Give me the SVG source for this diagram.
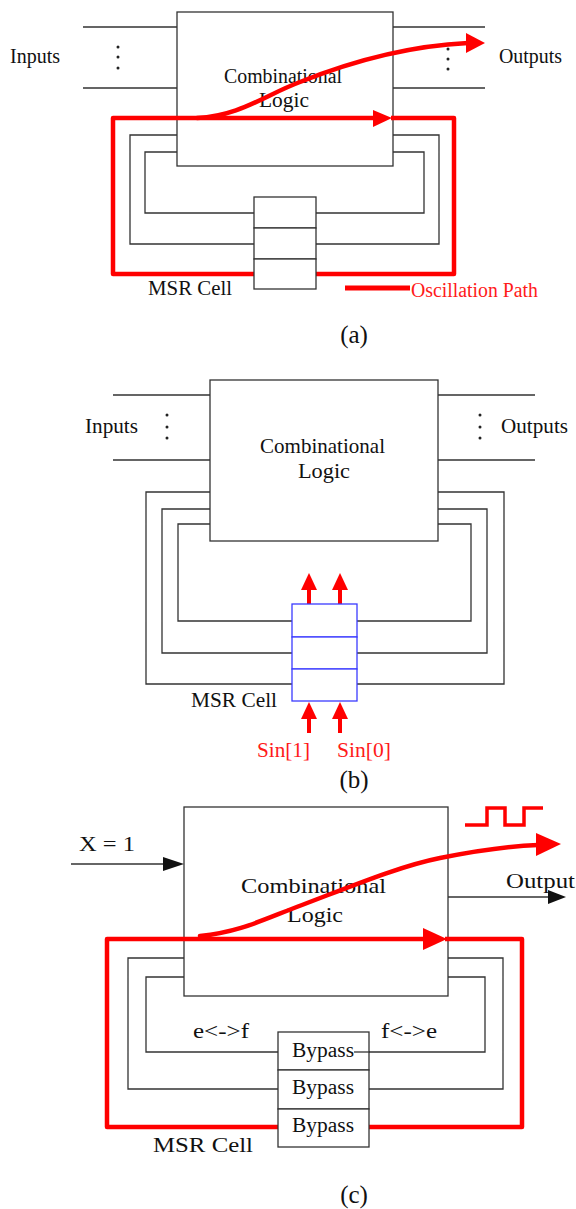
<svg xmlns="http://www.w3.org/2000/svg" width="576" height="1209" viewBox="0 0 576 1209">
<style>
.t{font-family:"Liberation Serif","Times New Roman",serif;fill:#111;}
.r{font-family:"Liberation Serif","Times New Roman",serif;fill:#ff1a1a;}
.cap{font-family:"Liberation Serif","Times New Roman",serif;fill:#111;font-size:25px;text-anchor:middle;}
.w{fill:none;stroke:#333;stroke-width:1.3;}
.box{fill:#fff;stroke:#333;stroke-width:1.3;}
.cell{fill:#fff;stroke:#333;stroke-width:1.3;}
.bcell{fill:#fff;stroke:#3b3bff;stroke-width:1.3;}
.red{fill:none;stroke:#ff0000;stroke-width:4.5;stroke-linejoin:round;}
.redc{fill:none;stroke:#ff0000;stroke-width:4.5;stroke-linecap:round;}
.rh{fill:#ff0000;}
.bh{fill:#111;}
.dot{fill:#222;}
</style>
<rect x="0" y="0" width="576" height="1209" fill="#fff"/>

<!-- ================= Panel (a) ================= -->
<g id="a-logic">
  <rect class="box" x="177" y="12" width="216" height="154"/>
  <text class="t" x="283" y="83" font-size="20" text-anchor="middle" textLength="118" lengthAdjust="spacingAndGlyphs">Combinational</text>
  <text class="t" x="284" y="107" font-size="20" text-anchor="middle" textLength="50" lengthAdjust="spacingAndGlyphs">Logic</text>
</g>
<g id="a-inputs">
  <text class="t" x="10" y="63" font-size="20" textLength="50" lengthAdjust="spacingAndGlyphs">Inputs</text>
  <circle class="dot" cx="118" cy="47" r="1.5"/><circle class="dot" cx="118" cy="57" r="1.5"/><circle class="dot" cx="118" cy="68" r="1.5"/>
</g>
<g id="a-outputs">
  <text class="t" x="499" y="63" font-size="20" textLength="63" lengthAdjust="spacingAndGlyphs">Outputs</text>
  <circle class="dot" cx="448" cy="49" r="1.5"/><circle class="dot" cx="448" cy="59" r="1.5"/><circle class="dot" cx="448" cy="69" r="1.5"/>
</g>
<g id="a-connectors">
  <path class="w" d="M83,27H177M83,88H177M393,27H485M393,88H485"/>
  <path class="w" d="M177,135H130V244H254M177,152H145V213H254"/>
  <path class="w" d="M393,135H439V244H316M393,152H424V213H316"/>
  <path class="red" d="M254,274H113V118H373M391,118H454V274H316"/>
  <polygon class="rh" points="373,110 392,118 373,127"/>
  <path class="redc" d="M197,118C240,116 265,95 300,82C345,64 405,46 468,43"/>
  <polygon class="rh" points="466,33 485,43 466,53"/>
</g>
<g id="a-msr">
  <rect class="cell" x="254" y="197" width="62" height="31"/>
  <rect class="cell" x="254" y="228" width="62" height="31"/>
  <rect class="cell" x="254" y="259" width="62" height="30"/>
  <text class="t" x="148" y="295" font-size="20" textLength="84" lengthAdjust="spacingAndGlyphs">MSR Cell</text>
</g>
<g id="a-legend">
  <line x1="345" y1="288" x2="410" y2="288" stroke="#ff0000" stroke-width="5"/>
  <text class="r" x="411" y="297" font-size="20" textLength="127" lengthAdjust="spacingAndGlyphs">Oscillation Path</text>
</g>
<text class="cap" x="354" y="343">(a)</text>

<!-- ================= Panel (b) ================= -->
<g id="b-logic">
  <rect class="box" x="210" y="380" width="228" height="161"/>
  <text class="t" x="322.5" y="453" font-size="21" text-anchor="middle" textLength="125" lengthAdjust="spacingAndGlyphs">Combinational</text>
  <text class="t" x="324" y="478" font-size="21" text-anchor="middle" textLength="52" lengthAdjust="spacingAndGlyphs">Logic</text>
</g>
<g id="b-inputs">
  <text class="t" x="85" y="433" font-size="21" textLength="53" lengthAdjust="spacingAndGlyphs">Inputs</text>
  <circle class="dot" cx="167" cy="415" r="1.5"/><circle class="dot" cx="167" cy="427" r="1.5"/><circle class="dot" cx="167" cy="438" r="1.5"/>
</g>
<g id="b-outputs">
  <text class="t" x="501" y="433" font-size="21" textLength="67" lengthAdjust="spacingAndGlyphs">Outputs</text>
  <circle class="dot" cx="480" cy="415" r="1.5"/><circle class="dot" cx="480" cy="427" r="1.5"/><circle class="dot" cx="480" cy="438" r="1.5"/>
</g>
<g id="b-connectors">
  <path class="w" d="M113,395H210M113,460H210M438,395H535M438,460H535"/>
  <path class="w" d="M210,492H146V684H292M210,509H162V653H292M210,524H178V621H292"/>
  <path class="w" d="M438,492H504V684H357M438,509H487V653H357M438,524H471V621H357"/>
  <path d="M309,604V587M340,604V587M309,733V716M340,733V716" stroke="#ff0000" stroke-width="4" fill="none"/>
  <polygon class="rh" points="301,590 309,573 317,590"/>
  <polygon class="rh" points="332,590 340,573 348,590"/>
  <polygon class="rh" points="301,719 309,702 317,719"/>
  <polygon class="rh" points="332,719 340,702 348,719"/>
</g>
<g id="b-msr">
  <rect class="bcell" x="292" y="604" width="65" height="33"/>
  <rect class="bcell" x="292" y="637" width="65" height="32"/>
  <rect class="bcell" x="292" y="669" width="65" height="32"/>
  <text class="t" x="191" y="707" font-size="21" textLength="86" lengthAdjust="spacingAndGlyphs">MSR Cell</text>
</g>
<g id="b-sin">
  <text class="r" x="257" y="757" font-size="21" textLength="53" lengthAdjust="spacingAndGlyphs">Sin[1]</text>
  <text class="r" x="337" y="757" font-size="21" textLength="54" lengthAdjust="spacingAndGlyphs">Sin[0]</text>
</g>
<text class="cap" x="354" y="788">(b)</text>

<!-- ================= Panel (c) ================= -->
<g id="c-logic">
  <rect class="box" x="184" y="807" width="264" height="189"/>
  <text class="t" x="313.5" y="893" font-size="22" text-anchor="middle" textLength="145" lengthAdjust="spacingAndGlyphs">Combinational</text>
  <text class="t" x="315" y="922" font-size="22" text-anchor="middle" textLength="56" lengthAdjust="spacingAndGlyphs">Logic</text>
</g>
<g id="c-input">
  <text class="t" x="79" y="851" font-size="22" textLength="56" lengthAdjust="spacingAndGlyphs">X = 1</text>
</g>
<g id="c-output">
  <text class="t" x="506" y="888" font-size="22" textLength="69" lengthAdjust="spacingAndGlyphs">Output</text>
</g>
<g id="c-wave">
  <path d="M465,825H487V808H505V825H524V808H543" fill="none" stroke="#ff0000" stroke-width="3.5"/>
</g>
<g id="c-connectors">
  <line class="w" x1="71" y1="864" x2="166" y2="864"/>
  <polygon class="bh" points="163,857 184,864 163,871"/>
  <line class="w" x1="448" y1="897" x2="550" y2="897"/>
  <polygon class="bh" points="548,890 566,897 548,904"/>
  <path class="w" d="M184,958H128V1089H278M184,977H146V1052H278"/>
  <path class="w" d="M448,958H503V1089H369M448,977H485V1052H354"/>
  <path class="red" d="M278,1127H107V939H424M445,939H522V1127H369" stroke-width="5.5"/>
  <polygon class="rh" points="423,928 447,939 423,950"/>
  <path class="redc" d="M200,936C240,932 262,920 302,905C352,886 400,866 440,858C480,850 510,846 538,845" stroke-width="5"/>
  <polygon class="rh" points="536,833 561,844 536,856"/>
</g>
<g id="c-msr">
  <rect class="cell" x="278" y="1032" width="91" height="38"/>
  <rect class="cell" x="278" y="1070" width="91" height="39"/>
  <rect class="cell" x="278" y="1109" width="91" height="38"/>
  <line class="w" x1="354" y1="1052" x2="370" y2="1052"/>
  <text class="t" x="292" y="1057" font-size="20" textLength="62" lengthAdjust="spacingAndGlyphs">Bypass</text>
  <text class="t" x="292" y="1094" font-size="20" textLength="62" lengthAdjust="spacingAndGlyphs">Bypass</text>
  <text class="t" x="292" y="1132" font-size="20" textLength="62" lengthAdjust="spacingAndGlyphs">Bypass</text>
  <text class="t" x="153" y="1152" font-size="22" textLength="100" lengthAdjust="spacingAndGlyphs">MSR Cell</text>
</g>
<g id="c-labels">
  <text class="t" x="193" y="1038" font-size="22" textLength="56" lengthAdjust="spacingAndGlyphs">e&lt;-&gt;f</text>
  <text class="t" x="381" y="1038" font-size="22" textLength="56" lengthAdjust="spacingAndGlyphs">f&lt;-&gt;e</text>
</g>
<text class="cap" x="354" y="1203">(c)</text>
</svg>
